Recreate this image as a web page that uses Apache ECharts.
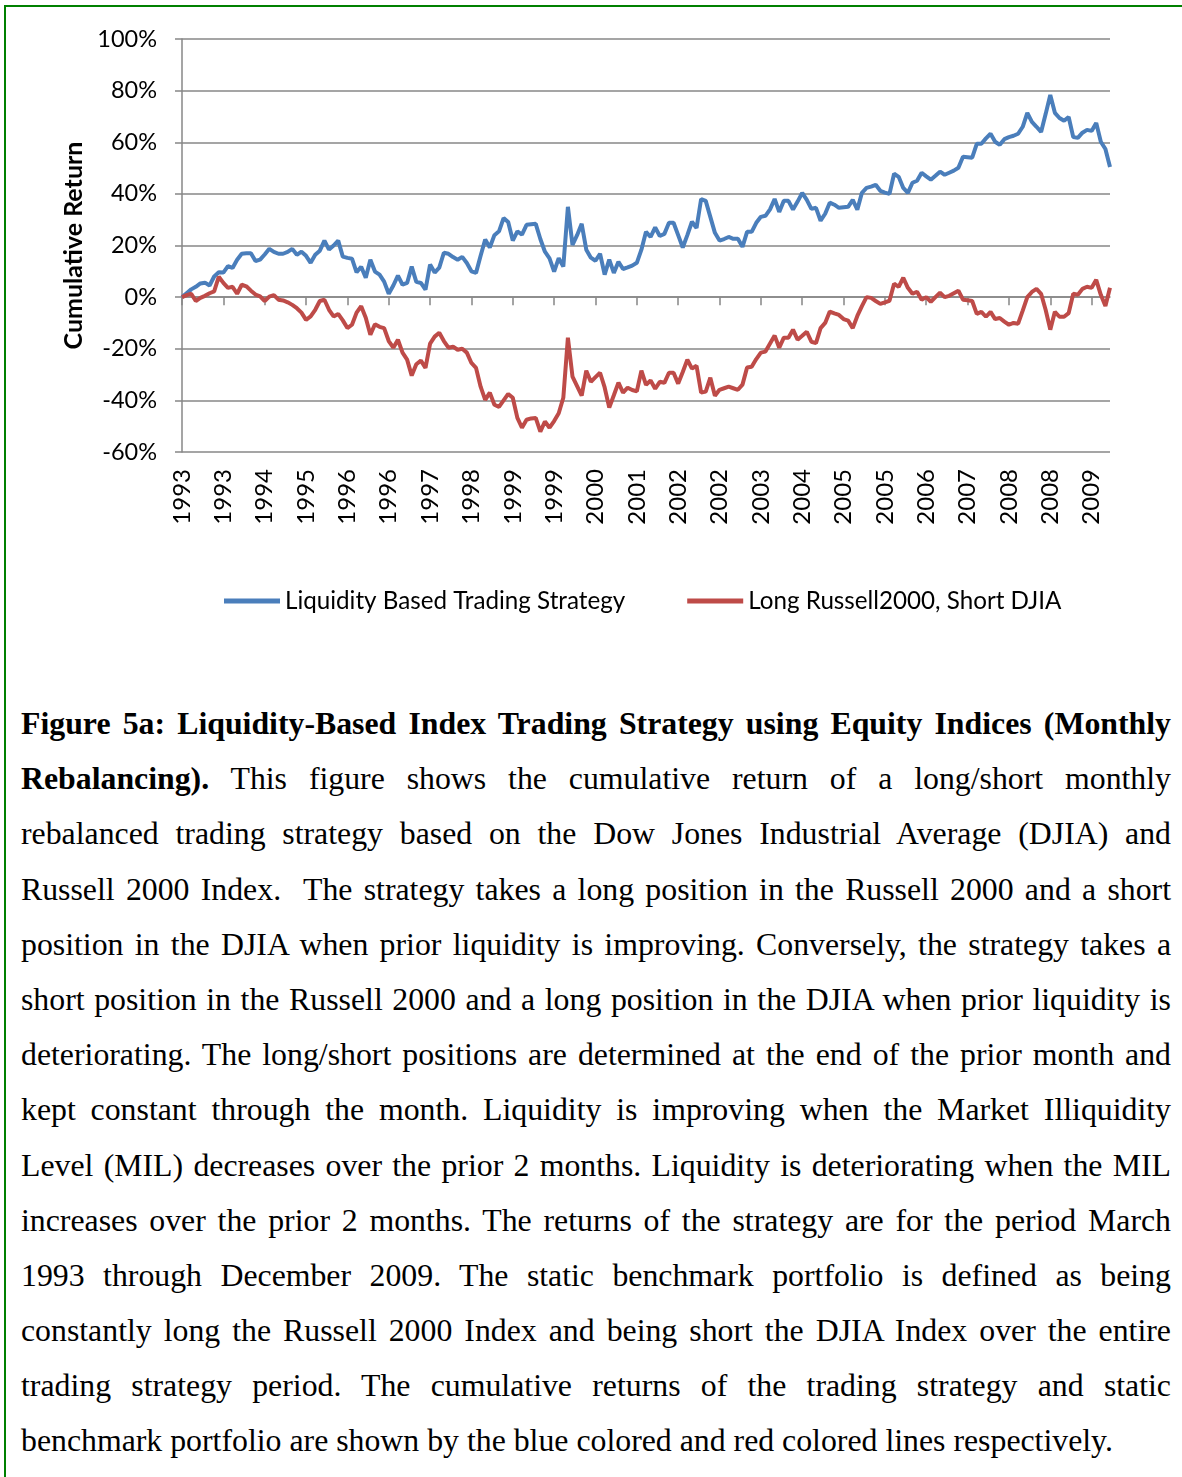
<!DOCTYPE html>
<html>
<head>
<meta charset="utf-8">
<title>Figure 5a</title>
<script src="https://cdn.jsdelivr.net/npm/echarts@6/dist/echarts.min.js"></script>
<style>
  body { margin: 0; background: #fff; }
  #frame {
    position: absolute; left: 4px; top: 5px; width: 1182px; height: 1480px;
    border-left: 2px solid #008000; border-top: 2px solid #008000;
  }
  #chart { position: absolute; left: 0; top: 0; width: 1182px; height: 660px; }
  #caption {
    position: absolute; left: 21px; top: 696px; width: 1150px;
    font-family: "Liberation Serif", "Times New Roman", serif; font-size: 31.8px; color: #000;
  }
  #caption div { height: 55.2px; line-height: 55.2px; white-space: nowrap; text-align: justify; text-align-last: justify; }
  #caption div.last { text-align-last: left; }
</style>
</head>
<body>
<div id="frame"></div>
<div id="chart"></div>
<div id="caption">
  <div><b>Figure 5a: Liquidity-Based Index Trading Strategy using Equity Indices (Monthly</b></div>
  <div><b>Rebalancing).</b> This figure shows the cumulative return of a long/short monthly</div>
  <div>rebalanced trading strategy based on the Dow Jones Industrial Average (DJIA) and</div>
  <div>Russell 2000 Index.&nbsp; The strategy takes a long position in the Russell 2000 and a short</div>
  <div>position in the DJIA when prior liquidity is improving. Conversely, the strategy takes a</div>
  <div>short position in the Russell 2000 and a long position in the DJIA when prior liquidity is</div>
  <div>deteriorating. The long/short positions are determined at the end of the prior month and</div>
  <div>kept constant through the month. Liquidity is improving when the Market Illiquidity</div>
  <div>Level (MIL) decreases over the prior 2 months. Liquidity is deteriorating when the MIL</div>
  <div>increases over the prior 2 months. The returns of the strategy are for the period March</div>
  <div>1993 through December 2009. The static benchmark portfolio is defined as being</div>
  <div>constantly long the Russell 2000 Index and being short the DJIA Index over the entire</div>
  <div>trading strategy period. The cumulative returns of the trading strategy and static</div>
  <div class="last">benchmark portfolio are shown by the blue colored and red colored lines respectively.</div>
</div>

<script>
// monthly points, Feb 1993 (start, 0%) .. Dec 2009
const startYear = 1993;
const startMonth = 2;
const seriesNames = ["Liquidity Based Trading Strategy", "Long Russell2000, Short DJIA"];

// cumulative return in %
const liquidityStrategy = [
  0, 1.5, 3, 4, 5.3, 5.6, 4.5, 8, 9.6, 9.5,
  12, 11.3, 14.5, 16.8, 17, 17, 14, 14.5, 16.5, 18.7,
  17.5, 16.8, 16.8, 17.5, 18.7, 16.4, 17.6, 16, 13.3, 16.4,
  18, 21.9, 18.4, 20, 21.9, 15.7, 15.2, 14.9, 9.6, 11.8,
  7.5, 14.5, 9.9, 8.7, 6, 1.3, 4.5, 8.3, 4.8, 5.5,
  11.8, 5.9, 5.5, 2.9, 12.6, 9.5, 11.4, 17.2, 16.8, 15.5,
  14.5, 15.6, 13.2, 10, 9.4, 16, 22.3, 19.2, 24, 25.5,
  30.6, 29.1, 21.9, 25.5, 24.2, 28, 28.2, 28.4, 22.5, 17.6,
  15, 9.9, 15.1, 11.8, 35, 20.2, 24, 28.4, 18.4, 15.3,
  14.1, 16.8, 8.7, 14.5, 9.4, 13.7, 10.9, 11.5, 12.2, 13.3,
  18.4, 25.3, 23.3, 27, 23.7, 24.5, 28.8, 28.8, 24, 19.2,
  24, 29.2, 26.8, 38, 37.3, 31.1, 24.9, 21.9, 22.5, 23.3,
  22.6, 22.6, 19.5, 25.3, 25.3, 28.8, 31.1, 31.5, 34, 38,
  33, 37.3, 37.3, 33.9, 37, 40.4, 37.7, 34.2, 34.6, 29.6,
  32.3, 36.6, 35.8, 34.6, 34.8, 35, 37.7, 33.9, 40.4, 42.3,
  42.8, 43.5, 41.2, 40.5, 40, 47.8, 46.6, 42.3, 40.4, 44.3,
  45.1, 48.2, 46.8, 45.5, 47, 48.6, 47.4, 48.2, 49, 50.1,
  54.4, 54.2, 54, 59.4, 59.4, 61.5, 63.3, 60.2, 59, 61.2,
  62, 62.5, 63.3, 66, 71.4, 67.9, 66, 64, 71, 78.3,
  71.4, 69.4, 68.3, 69.8, 62, 61.7, 63.7, 64.8, 64.4, 67.5,
  60.2, 57.4, 50.4
];

const longRussellShortDjia = [
  0, 0.8, 1.3, -1.5, -0.3, 0.5, 1.5, 2.2, 7.9, 5.5,
  3.6, 4, 1.3, 4.8, 4.2, 2.5, 1, 0.3, -1.5, 0.2,
  0.8, -1, -1.3, -2, -3, -4.3, -6, -8.8, -7.5, -4.9,
  -1.5, -1, -4.9, -7.5, -6.5, -9, -12, -10.7, -6, -3.5,
  -8, -14.6, -10.5, -11.5, -12, -17, -19.6, -16.5, -21.5, -24.2,
  -30.4, -26, -24.6, -27.4, -18, -15.3, -13.8, -17, -19.6, -19.2,
  -20.4, -20, -21.5, -25.5, -27.4, -34.7, -39.8, -37, -41.7, -42.5,
  -40, -37.5, -39, -46.8, -50.6, -47.5, -47, -46.8, -52.1, -48.2,
  -50.6, -48, -45, -39, -15.7, -30.8, -34.5, -38.2, -28.5, -32.8,
  -31, -29.3, -35, -42.8, -38, -33.1, -37, -35.1, -36, -36.5,
  -28.5, -34, -32.3, -35.5, -32.8, -33.2, -29.3, -29.3, -33.5, -29,
  -24.2, -27.7, -26.6, -37, -36.6, -31.2, -38.2, -35.9, -35.3, -34.7,
  -35.3, -35.9, -33.9, -27.3, -27, -24, -21.5, -21.1, -18, -14.9,
  -19.6, -15.7, -15.7, -12.6, -16.5, -15, -13.4, -17.3, -17.8, -12,
  -10, -5.6, -6.3, -6.9, -8.5, -9.1, -12, -7.3, -3.5, 0,
  -0.3, -1.5, -2.6, -2, -1.4, 5.2, 4, 7.5, 3.6, 1.3,
  2.1, -1, 0, -1.8, 0, 1.7, 0, 0.5, 1.5, 2.5,
  -1, -1.2, -1.5, -6.5, -5.7, -7.6, -5.7, -8.5, -8.1, -9.5,
  -10.7, -10, -10.3, -5.2, 0, 2, 3.2, 1.3, -5, -12.6,
  -5.7, -7.6, -7.6, -6.2, 1.3, 0.9, 3.2, 4, 3.6, 6.7,
  0.9, -3.4, 3.6
];

const categories = [];
for (let i = 0; i < liquidityStrategy.length; i++) {
  const m = startMonth - 1 + i;
  const y = startYear + Math.floor(m / 12);
  categories.push(y + "-" + String((m % 12) + 1).padStart(2, "0"));
}

const gray = "#878787";
const font = "Lato, 'Open Sans', sans-serif";

const chart = echarts.init(document.getElementById("chart"));

const options = {
  animation: false,
  textStyle: { fontFamily: font },
  color: ["#4A7EBB", "#BE4B48"],
  grid: { left: 182, right: 72, top: 39, bottom: 208 },
  legend: {
    top: 584,
    left: 219,
    icon: "rect",
    itemWidth: 56,
    itemHeight: 5,
    itemGap: 62,
    textStyle: { fontSize: 24.2, color: "#000", fontFamily: font },
    data: seriesNames
  },
  xAxis: [
    {
      type: "category",
      data: categories,
      boundaryGap: false,
      position: "bottom",
      axisLine: { show: false, onZero: false },
      axisTick: { show: false },
      axisLabel: {
        interval: 8,
        rotate: 90,
        margin: 17,
        fontSize: 24,
        color: "#000",
        formatter: (v) => v.slice(0, 4)
      },
      splitLine: { show: false }
    },
    {
      type: "category",
      data: categories,
      boundaryGap: false,
      position: "top",
      axisLine: { show: true, onZero: true, lineStyle: { color: gray, width: 1.5 } },
      axisTick: { show: true, inside: true, interval: 8, length: 8, lineStyle: { color: gray, width: 1.5 } },
      axisLabel: { show: false },
      splitLine: { show: false }
    }
  ],
  yAxis: {
    type: "value",
    min: -60,
    max: 100,
    interval: 20,
    name: "Cumulative Return",
    nameLocation: "middle",
    nameGap: 90,
    nameTextStyle: { fontSize: 25, fontWeight: "bold", color: "#000", fontFamily: font },
    axisLine: { show: true, lineStyle: { color: gray, width: 1.5 } },
    axisTick: { show: true, length: 7, lineStyle: { color: gray, width: 1.5 } },
    axisLabel: { formatter: "{value}%", fontSize: 23.5, color: "#000", margin: 25 },
    splitLine: { lineStyle: { color: gray, width: 1.5 } }
  },
  series: [
    {
      name: seriesNames[0],
      type: "line",
      data: liquidityStrategy,
      showSymbol: false,
      symbol: "none",
      lineStyle: { width: 4 },
      z: 3
    },
    {
      name: seriesNames[1],
      type: "line",
      data: longRussellShortDjia,
      showSymbol: false,
      symbol: "none",
      lineStyle: { width: 4 },
      z: 3
    }
  ]
};

chart.setOption(options);
</script>
</body>
</html>
